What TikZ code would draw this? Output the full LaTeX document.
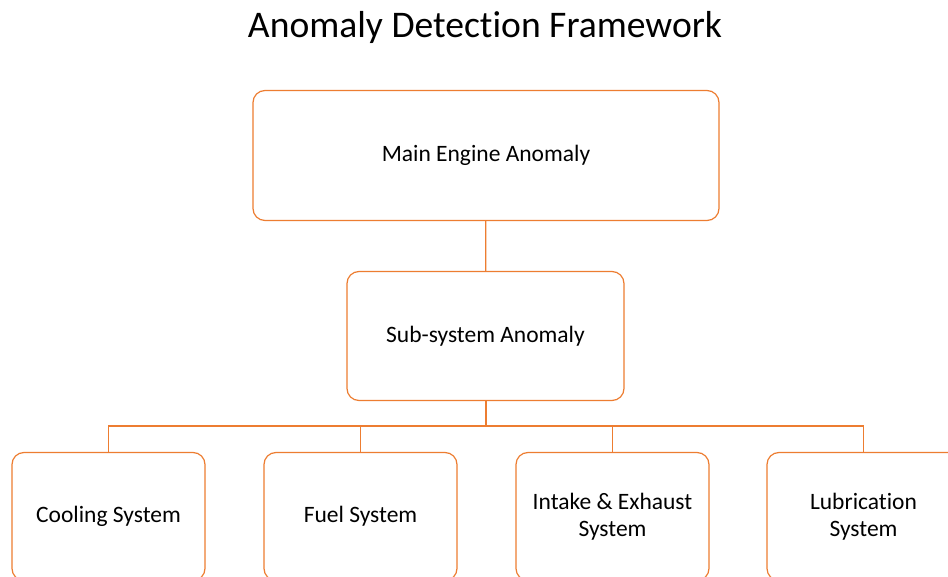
\documentclass[tikz,border=0pt]{standalone}
\usepackage{fontspec}
\setmainfont{Carlito}[Ligatures=NoCommon]
\definecolor{edgeorange}{RGB}{237,125,49}
\tikzset{
  box/.style={draw=edgeorange, line width=1.2pt, rounded corners=12pt, fill=white,
    align=center, font=\fontsize{23.5}{27}\selectfont, inner sep=0pt},
  link/.style={draw=edgeorange, line width=1.2pt},
}
\begin{document}
\begin{tikzpicture}[x=1pt, y=-1pt]
  \clip (0,0) rectangle (948,577);
  \fill[white] (0,0) rectangle (948,577);
  % title
  \node (title) at (485,27) {\fontsize{37.6}{40}\selectfont Anomaly Detection Framework};
  % top two levels
  \node[box, minimum width=466pt, minimum height=130pt] (main) at (486,155.5) {Main Engine Anomaly};
  \node[box, minimum width=277pt, minimum height=129pt] (sub) at (485.5,336) {Sub-system Anomaly};
  % sub-systems
  \node[box, minimum width=193pt, minimum height=128pt] (cool) at (108.5,516.5) {Cooling System};
  \node[box, minimum width=193pt, minimum height=128pt] (fuel) at (360.5,516.5) {Fuel System};
  \node[box, minimum width=193pt, minimum height=128pt] (intake) at (612.5,516.5) {Intake \& Exhaust\\System};
  \node[box, minimum width=193pt, minimum height=128pt] (lube) at (863.5,516.5) {Lubrication\\System};
  % connectors
  \coordinate (bus) at (485.5,426);
  \draw[link] (main) -- (sub);
  \draw[link, line width=2pt] (sub) -- (bus);
  \draw[link] (bus) -| (cool);
  \draw[link] (bus) -| (fuel);
  \draw[link] (bus) -| (intake);
  \draw[link] (bus) -| (lube);
\end{tikzpicture}
\end{document}
